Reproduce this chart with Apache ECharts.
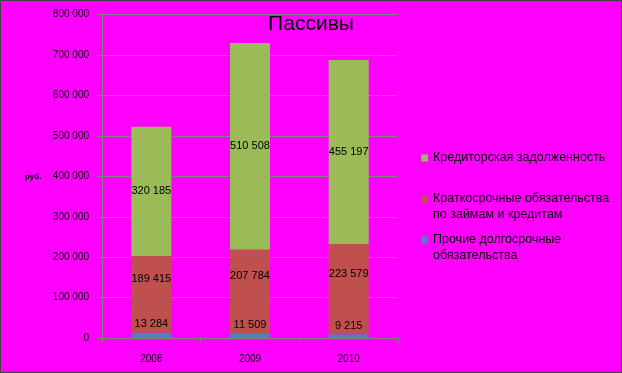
<!DOCTYPE html>
<html>
<head>
<meta charset="utf-8">
<script src="https://cdn.jsdelivr.net/npm/echarts@6/dist/echarts.min.js"></script>
<style>html,body{margin:0;padding:0;background:#ff00ff}#c{width:622px;height:373px}</style>
</head>
<body>
<div id="c"></div>
<script>
var categories = ['2008', '2009', '2010'];
var otherLongTerm = [13284, 11509, 9215];
var shortTermLoans = [189415, 207784, 223579];
var payables = [320185, 510508, 455197];
var yTicks = [0, 100000, 200000, 300000, 400000, 500000, 600000, 700000, 800000];

var nameBlue = 'Прочие долгосрочные\nобязательства';
var nameRed = 'Краткосрочные обязательства\nпо займам и кредитам';
var nameGreen = 'Кредиторская задолженность';

function fmt(v) { return String(v).replace(/\B(?=(\d{3})+(?!\d))/g, ' '); }

var FONT = '"Liberation Sans", Arial, sans-serif';
var chart = echarts.init(document.getElementById('c'), null, {renderer: 'canvas'});

function legendAt(name, top, multi) {
  return {
    data: [name],
    orient: 'vertical', left: 421, top: top, padding: 0,
    itemWidth: 7, itemHeight: 7, itemGap: 0,
    icon: 'rect', selectedMode: false,
    formatter: function (n) { return multi ? ' \n' + n : n; },
    textStyle: {fontFamily: FONT, fontSize: 12.5, color: '#000', lineHeight: 16}
  };
}

chart.setOption({
  backgroundColor: '#ff00ff',
  animation: false,
  title: {
    text: 'Пассивы', left: 'center', top: 14, padding: 0,
    textStyle: {fontFamily: FONT, fontSize: 21, fontWeight: 'normal', color: '#000'}
  },
  legend: [
    legendAt(nameGreen, 150, false),
    legendAt(nameRed, 175, true),
    legendAt(nameBlue, 216, true)
  ],
  grid: {left: 102, right: 224, top: 14.7, bottom: 35, containLabel: false},
  xAxis: {
    type: 'category', data: categories,
    axisLine: {lineStyle: {color: '#808080', width: 1}},
    axisTick: {show: true, length: 5, lineStyle: {color: '#808080'}},
    axisLabel: {fontFamily: FONT, fontSize: 10, color: '#000', margin: 16}
  },
  yAxis: {
    type: 'value', min: 0, max: 800000, interval: 100000,
    axisLine: {show: true, lineStyle: {color: '#808080', width: 1}},
    axisTick: {show: true, length: 5, lineStyle: {color: '#808080'}},
    splitLine: {lineStyle: {color: '#808080', width: 1}},
    axisLabel: {fontFamily: FONT, fontSize: 10, color: '#000', margin: 13,
      formatter: function (v) { return yTicks.indexOf(v) >= 0 ? fmt(v) : ''; }}
  },
  graphic: [
    {type: 'text', left: 25, top: 173, style: {text: 'руб.', fontFamily: FONT, fontSize: 8, fontWeight: 'bold', fill: '#000'}},
    {type: 'rect', z: 100, silent: true, shape: {x: 0.5, y: 0.5, width: 621, height: 372},
      style: {fill: 'none', stroke: '#404040', lineWidth: 1}}
  ],
  series: [
    {
      name: nameBlue, type: 'bar', stack: 'total', data: otherLongTerm, barWidth: 40,
      itemStyle: {color: '#4f81bd'},
      label: {show: true, position: 'top', distance: 3, fontFamily: FONT, fontSize: 11, color: '#000', formatter: function (p) { return fmt(p.value); }}
    },
    {
      name: nameRed, type: 'bar', stack: 'total', data: shortTermLoans, barWidth: 40,
      itemStyle: {color: '#c0504d'},
      label: {show: true, position: 'inside', offset: [0, -15], fontFamily: FONT, fontSize: 11, color: '#000', formatter: function (p) { return fmt(p.value); }}
    },
    {
      name: nameGreen, type: 'bar', stack: 'total', data: payables, barWidth: 40,
      itemStyle: {color: '#9bbb59'},
      label: {show: true, position: 'inside', fontFamily: FONT, fontSize: 11, color: '#000', formatter: function (p) { return fmt(p.value); }}
    }
  ]
});
</script>
</body>
</html>
